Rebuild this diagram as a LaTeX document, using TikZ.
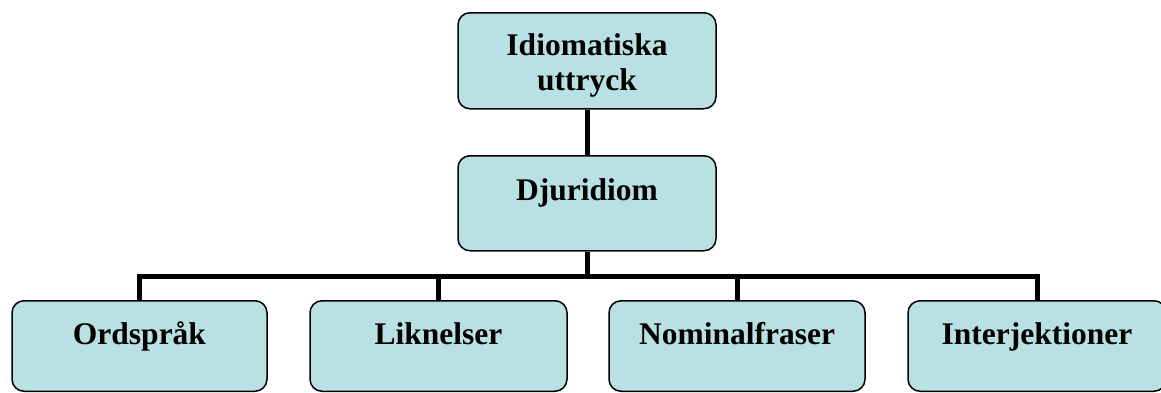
\documentclass[tikz,border=0pt]{standalone}
\usepackage{fontspec}
\setmainfont{Liberation Serif}
\definecolor{boxfill}{RGB}{185,224,227}
\begin{document}
\begin{tikzpicture}[x=1pt,y=-1pt,
  box/.style={draw=black, line width=1.5pt, fill=boxfill, rounded corners=12pt,
    inner sep=0pt, anchor=north, align=center,
    font=\bfseries\fontsize{31.5}{35}\selectfont},
  conn/.style={draw=black, line width=5pt}]
\useasboundingbox (0,0) rectangle (1161,392);
\node[box, text width=258pt, text height=43pt, text depth=53pt] (top) at (587,12) {Idiomatiska\\uttryck};
\node[box, text width=258pt, text height=45pt, text depth=50pt] (mid) at (587,155) {Djuridiom};
\node[box, text width=255pt, text height=44pt, text depth=46.5pt] (o) at (139.5,300) {Ordspråk};
\node[box, text width=257pt, text height=44pt, text depth=46.5pt] (l) at (438.5,300) {Liknelser};
\node[box, text width=256pt, text height=44pt, text depth=46.5pt] (n) at (737,300) {Nominalfraser};
\node[box, text width=258pt, text height=44pt, text depth=46.5pt] (i) at (1037,300) {Interjektioner};
\coordinate (bar) at (587,276);
\draw[conn] (top.south) -- (mid.north);
\draw[conn] (mid.south) -- (bar);
\draw[conn] (o.north) |- (bar) -| (i.north);
\draw[conn] (l.north) -- (l.north |- bar);
\draw[conn] (n.north) -- (n.north |- bar);
\end{tikzpicture}
\end{document}
